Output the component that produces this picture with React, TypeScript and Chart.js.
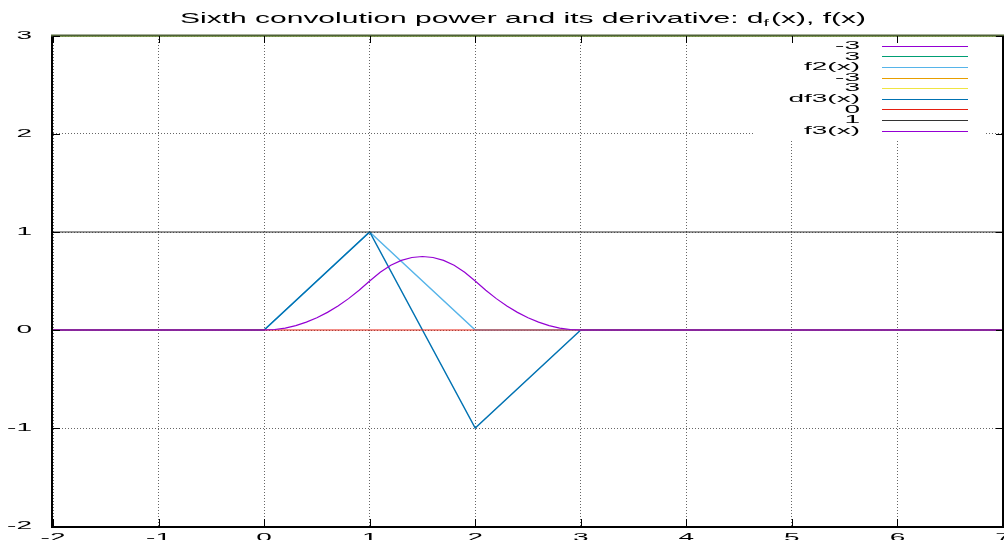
import React, { useEffect, useRef } from "react";
import { Chart, registerables } from "chart.js";

Chart.register(...registerables);

// ---- text ----
const TITLE_MAIN = "Sixth convolution power and its derivative: d";
const TITLE_SUB = "f";
const TITLE_END = "(x), f(x)";

// ---- axes ----
const X_MIN = -2;
const X_MAX = 7;
const Y_MIN = -2;
const Y_MAX = 3;
const xTickValues = [-2, -1, 0, 1, 2, 3, 4, 5, 6, 7];
const yTickValues = [-2, -1, 0, 1, 2, 3];

// ---- series (legend order = draw order) ----
const seriesLabels = ["-3", "3", "f2(x)", "-3", "3", "df3(x)", "0", "1", "f3(x)"];
const seriesColors = ["#9400d3", "#009e73", "#56b4e9", "#e69f00", "#f0e442", "#0072b2", "#e51e10", "#333333", "#9400d3"];

const constX = [-2, 7];
const constMinus3 = [-3, -3];
const const3 = [3, 3];
const const0 = [0, 0];
const const1 = [1, 1];

const f2X = [-2, 0, 1, 2, 7];
const f2Y = [0, 0, 1, 0, 0];

const df3X = [-2, 0, 1, 2, 3, 7];
const df3Y = [0, 0, 1, -1, 0, 0];

const f3X = [-2, 0, 0.1, 0.2, 0.3, 0.4, 0.5, 0.6, 0.7, 0.8, 0.9, 1.0, 1.1, 1.2, 1.3, 1.4, 1.5, 1.6, 1.7, 1.8, 1.9, 2.0, 2.1, 2.2, 2.3, 2.4, 2.5, 2.6, 2.7, 2.8, 2.9, 3.0, 7];
const f3Y = [0, 0, 0.005, 0.02, 0.045, 0.08, 0.125, 0.18, 0.245, 0.32, 0.405, 0.5, 0.59, 0.66, 0.71, 0.74, 0.75, 0.74, 0.71, 0.66, 0.59, 0.5, 0.405, 0.32, 0.245, 0.18, 0.125, 0.08, 0.045, 0.02, 0.005, 0, 0];

const seriesXs = [constX, constX, f2X, constX, constX, df3X, constX, constX, f3X];
const seriesYs = [constMinus3, const3, f2Y, constMinus3, const3, df3Y, const0, const1, f3Y];

const FONT = "'Liberation Sans', Arial, sans-serif";
const LABEL_SX = 2.8;

function stretchText(ctx: CanvasRenderingContext2D, text: string, x: number, y: number, align: CanvasTextAlign, baseline: CanvasTextBaseline, sx: number, font: string) {
  ctx.save();
  ctx.font = font;
  ctx.textAlign = align;
  ctx.textBaseline = baseline;
  ctx.fillStyle = "#000";
  ctx.translate(x, y);
  ctx.scale(sx, 1);
  ctx.fillText(text, 0, 0);
  ctx.restore();
}

const gnuplotLook = {
  id: "gnuplotLook",
  beforeDatasetsDraw(chart: any) {
    const ctx: CanvasRenderingContext2D = chart.ctx;
    // opaque key box
    ctx.save();
    ctx.fillStyle = "#ffffff";
    ctx.fillRect(755, 37, 230, 103);
    ctx.restore();
  },
  afterDatasetsDraw(chart: any) {
    const ctx: CanvasRenderingContext2D = chart.ctx;
    const { left, right, top, bottom } = chart.chartArea;
    const xs = chart.scales.x;
    const ys = chart.scales.y;

    // frame
    ctx.save();
    ctx.lineWidth = 2;
    ctx.strokeStyle = "#000";
    ctx.beginPath();
    ctx.moveTo(left - 1, top - 1);
    ctx.lineTo(left - 1, bottom + 1);
    ctx.lineTo(right, bottom + 1);
    ctx.lineTo(right, top - 1);
    ctx.stroke();
    ctx.strokeStyle = "#4e6136";
    ctx.beginPath();
    ctx.moveTo(left - 2, top - 0.5);
    ctx.lineTo(right + 1, top - 0.5);
    ctx.stroke();

    // inward tick marks
    ctx.lineWidth = 1;
    ctx.strokeStyle = "#000";
    ctx.beginPath();
    xs.ticks.forEach((t: any) => {
      const px = Math.round(xs.getPixelForValue(t.value)) + 0.5;
      ctx.moveTo(px, bottom);
      ctx.lineTo(px, bottom - 7);
      ctx.moveTo(px, top);
      ctx.lineTo(px, top + 7);
    });
    ys.ticks.forEach((t: any) => {
      const py = Math.round(ys.getPixelForValue(t.value)) + 0.5;
      ctx.moveTo(left, py);
      ctx.lineTo(left + 7, py);
      ctx.moveTo(right, py);
      ctx.lineTo(right - 7, py);
    });
    ctx.stroke();
    ctx.restore();

    // tick labels
    const labelFont = `10px ${FONT}`;
    ys.ticks.forEach((t: any) => {
      stretchText(ctx, String(t.value), 32, ys.getPixelForValue(t.value) + 0.5, "right", "middle", LABEL_SX, labelFont);
    });
    xs.ticks.forEach((t: any) => {
      stretchText(ctx, String(t.value), xs.getPixelForValue(t.value), 541, "center", "alphabetic", LABEL_SX, labelFont);
    });

    // key
    chart.data.datasets.forEach((ds: any, i: number) => {
      const rowY = 45.7 + 10.6 * i;
      stretchText(ctx, ds.label, 860, rowY + 0.5, "right", "middle", LABEL_SX, labelFont);
      ctx.save();
      ctx.strokeStyle = ds.borderColor;
      ctx.lineWidth = 1;
      ctx.beginPath();
      ctx.moveTo(882, Math.round(rowY) + 0.5);
      ctx.lineTo(968, Math.round(rowY) + 0.5);
      ctx.stroke();
      ctx.restore();
    });

    // title with subscript
    ctx.save();
    const mainFont = `14px ${FONT}`;
    const subFont = `9px ${FONT}`;
    ctx.font = mainFont;
    const w1 = ctx.measureText(TITLE_MAIN).width;
    const w3 = ctx.measureText(TITLE_END).width;
    ctx.font = subFont;
    const w2 = ctx.measureText(TITLE_SUB).width + 1;
    const total = w1 + w2 + w3;
    const sx = (866 - 180) / total;
    const baseY = 23;
    stretchText(ctx, TITLE_MAIN, 180, baseY, "left", "alphabetic", sx, mainFont);
    stretchText(ctx, TITLE_SUB, 180 + w1 * sx, baseY + 3, "left", "alphabetic", sx, subFont);
    stretchText(ctx, TITLE_END, 180 + (w1 + w2) * sx, baseY, "left", "alphabetic", sx, mainFont);
    ctx.restore();
  },
};

export default function App() {
  const ref = useRef<HTMLCanvasElement | null>(null);

  useEffect(() => {
    if (!ref.current) return;
    const n = seriesLabels.length;
    const datasets = seriesLabels.map((label, i) => ({
      label,
      data: seriesXs[i].map((x, j) => ({ x, y: seriesYs[i][j] })),
      borderColor: seriesColors[i],
      backgroundColor: seriesColors[i],
      borderWidth: i === 5 || i === 2 ? 1.4 : 1.2,
      pointRadius: 0,
      tension: 0,
      fill: false,
      order: n - i,
      clip: i === 1 || i === 4 ? false : undefined,
    }));

    const gridOpts = {
      display: true,
      color: "rgba(0,0,0,0.6)",
      lineWidth: 1,
      drawTicks: false,
    };

    const chart = new Chart(ref.current, {
      type: "line",
      data: { datasets } as any,
      options: {
        animation: false,
        responsive: false,
        devicePixelRatio: 1,
        layout: { padding: { top: 36, right: 1, left: 0, bottom: 0 } },
        plugins: {
          legend: { display: false },
          title: { display: false },
          tooltip: { enabled: false },
        },
        scales: {
          x: {
            type: "linear",
            min: X_MIN,
            max: X_MAX,
            grid: gridOpts,
            border: { display: false, dash: [1, 2] },
            ticks: { display: false },
            afterBuildTicks: (s: any) => {
              s.ticks = xTickValues.map((v) => ({ value: v }));
            },
            afterFit: (s: any) => {
              s.height = 14;
            },
          },
          y: {
            type: "linear",
            min: Y_MIN,
            max: Y_MAX,
            grid: gridOpts,
            border: { display: false, dash: [1, 2] },
            ticks: { display: false },
            afterBuildTicks: (s: any) => {
              s.ticks = yTickValues.map((v) => ({ value: v }));
            },
            afterFit: (s: any) => {
              s.width = 53;
            },
          },
        },
      } as any,
      plugins: [gnuplotLook],
    });
    return () => chart.destroy();
  }, []);

  return (
    <div style={{ position: "absolute", left: 0, top: 0, width: 1004, height: 540, background: "#fff", overflow: "hidden" }}>
      <canvas ref={ref} width={1004} height={540} style={{ display: "block" }} />
    </div>
  );
}
